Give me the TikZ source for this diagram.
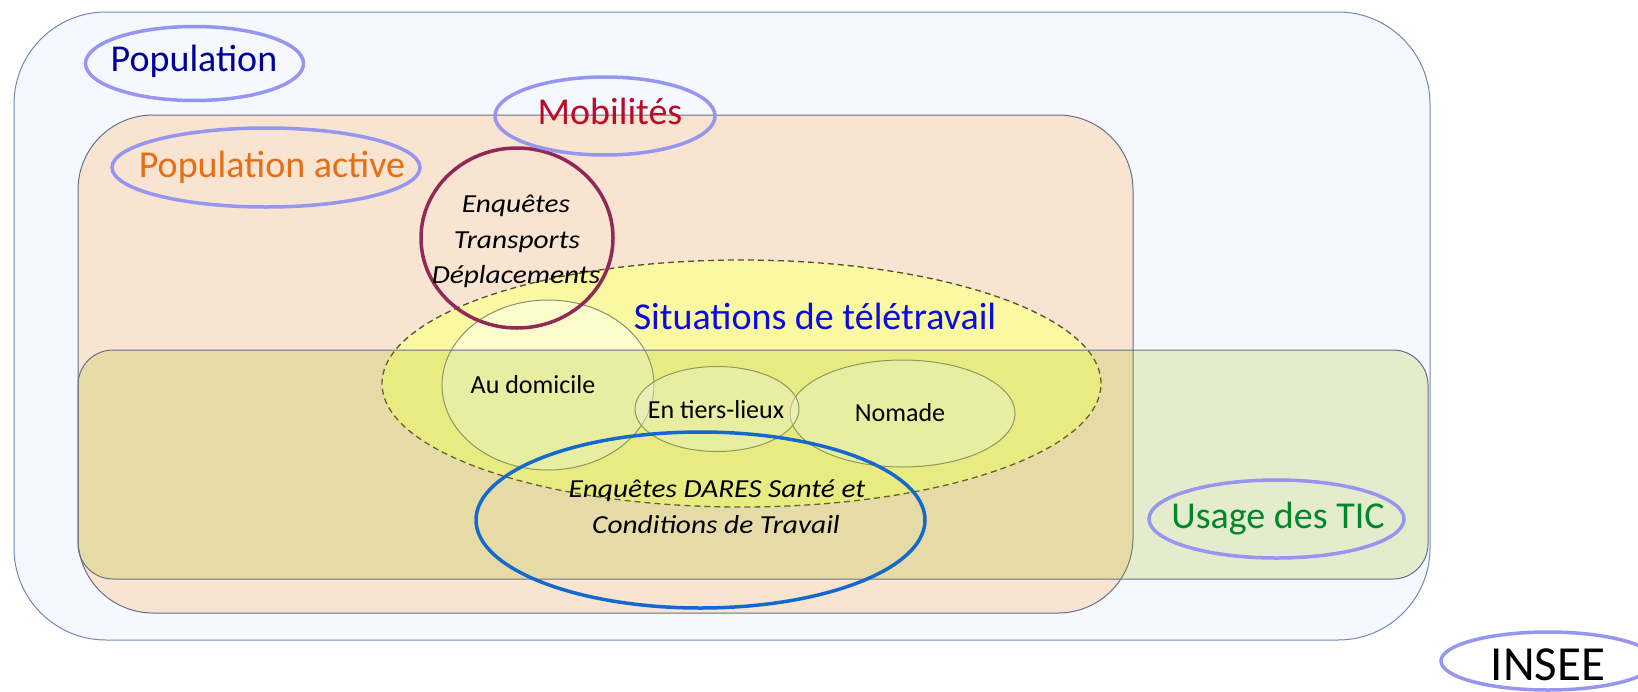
\documentclass[tikz,border=0pt]{standalone}
\usepackage{fontspec}
\setmainfont{Carlito}
\newfontfamily\itwide{Carlito}[FakeStretch=1.13]
\usetikzlibrary{shapes.geometric}
\definecolor{outerfill}{RGB}{245,249,255}
\definecolor{outerline}{RGB}{115,135,180}
\definecolor{beige}{RGB}{248,228,208}
\definecolor{boxline}{RGB}{100,112,140}
\definecolor{tic}{RGB}{160,185,5}
\definecolor{yel}{RGB}{250,248,160}
\definecolor{dashline}{RGB}{80,80,50}
\definecolor{subline}{RGB}{135,145,115}
\definecolor{maroon}{RGB}{145,40,85}
\definecolor{dares}{RGB}{20,105,205}
\definecolor{lav}{RGB}{150,150,240}
\definecolor{popc}{RGB}{0,0,150}
\definecolor{mobc}{RGB}{190,10,40}
\definecolor{actc}{RGB}{230,110,20}
\definecolor{sitc}{RGB}{10,10,230}
\definecolor{ticc}{RGB}{0,135,40}
\begin{document}
\begin{tikzpicture}[x=1pt,y=-1pt,
  area/.style={rectangle, inner sep=0pt, line width=1pt},
  ov/.style={ellipse, inner sep=0pt},
  subov/.style={ellipse, inner sep=0pt, draw=subline, line width=1pt, fill=white, fill opacity=0.45},
  lab/.style={ellipse, inner sep=0pt, draw=lav, line width=3.5pt},
  big/.style={anchor=base, inner sep=0pt, font=\fontsize{38}{45}\selectfont},
  small/.style={anchor=base, inner sep=0pt, font=\fontsize{26}{31}\selectfont},
  ital/.style={anchor=base, inner sep=0pt, font=\fontsize{26}{31}\itwide\itshape}]
\useasboundingbox (0,0) rectangle (1638,691);
\fill[white] (0,0) rectangle (1638,691);
% areas
\node[area, draw=outerline, fill=outerfill, rounded corners=92pt,
  minimum width=1416pt, minimum height=628pt] (pop) at (722,326) {};
\node[area, draw=boxline, fill=beige, rounded corners=75pt,
  minimum width=1055pt, minimum height=498pt] (act) at (605.5,364) {};
% telework situations
\node[ov, draw=dashline, dashed, dash pattern=on 6pt off 4pt, line width=1.3pt,
  fill=yel, minimum width=719pt, minimum height=247pt] (tele) at (741.5,383.5) {};
\node[subov, minimum width=212pt, minimum height=170pt] (dom) at (548,385) {};
\node[subov, minimum width=225pt, minimum height=107pt] (nom) at (902.5,413.5) {};
\node[subov, minimum width=164pt, minimum height=85pt] (tiers) at (717,409) {};
% ICT usage area (translucent, on top)
\node[area, draw=boxline, fill=tic, fill opacity=0.2, rounded corners=35pt,
  minimum width=1350pt, minimum height=229pt] (ticbox) at (753,464.5) {};
% surveys
\node[ov, draw=maroon, line width=3.5pt, minimum width=192pt, minimum height=180pt] (trans) at (517,238) {};
\node[ov, draw=dares, line width=3.5pt, minimum width=449pt, minimum height=176pt] (dar) at (700.5,520) {};
% label ovals
\node[lab, minimum width=218pt, minimum height=74pt] (lpop) at (194.5,63.5) {};
\node[lab, minimum width=220pt, minimum height=78pt] (lmob) at (605,116) {};
\node[lab, minimum width=308pt, minimum height=79pt] (lact) at (266,167.5) {};
\node[lab, minimum width=255pt, minimum height=78pt] (ltic) at (1276.5,519) {};
\node[lab, minimum width=214pt, minimum height=58pt] (lins) at (1548,661) {};
% texts
\node[big, text=popc] (tpop) at (194,71) {Population};
\node[big, text=mobc] (tmob) at (610,124) {Mobilités};
\node[big, text=actc] (tact) at (272,177) {Population active};
\node[big, text=sitc] (tsit) at (815,329) {Situations de télétravail};
\node[big, text=ticc] (ttic) at (1278,528) {Usage des TIC};
\node[anchor=base, inner sep=0pt, font=\fontsize{49}{58}\selectfont] (tins) at (1548,680) {INSEE};
\node[small] (tdom) at (533,393) {Au domicile};
\node[small] (ttiers) at (716,418) {En tiers-lieux};
\node[small] (tnom) at (900,421) {Nomade};
\node[ital] (tt1) at (516,212) {Enquêtes};
\node[ital] (tt2) at (517,248) {Transports};
\node[ital] (tt3) at (516,283) {Déplacements};
\node[ital] (td1) at (717,497) {Enquêtes DARES Santé et};
\node[ital] (td2) at (716,533) {Conditions de Travail};
\end{tikzpicture}
\end{document}
